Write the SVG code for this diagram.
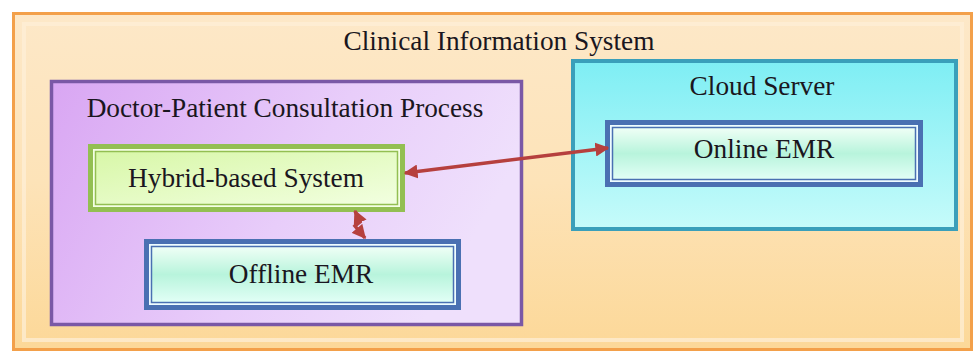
<svg xmlns="http://www.w3.org/2000/svg" width="976" height="352" viewBox="0 0 976 352">
<defs>
<linearGradient id="gOuter" x1="0" y1="0" x2="0" y2="1">
<stop offset="0" stop-color="#fde8c8"/>
<stop offset="0.5" stop-color="#fde3b8"/>
<stop offset="1" stop-color="#fcd898"/>
</linearGradient>
<linearGradient id="gPurple" x1="0" y1="0" x2="1" y2="0.3">
<stop offset="0" stop-color="#d9a6f3"/>
<stop offset="0.6" stop-color="#e8cdfa"/>
<stop offset="1" stop-color="#efe0fc"/>
</linearGradient>
<linearGradient id="gCloud" x1="0" y1="0" x2="0" y2="1">
<stop offset="0" stop-color="#7eeef4"/>
<stop offset="1" stop-color="#c6fbfa"/>
</linearGradient>
<linearGradient id="gEmr" x1="0" y1="0" x2="0" y2="1">
<stop offset="0" stop-color="#f0fff6"/>
<stop offset="0.5" stop-color="#b8f4dc"/>
<stop offset="1" stop-color="#e2fff6"/>
</linearGradient>
<linearGradient id="gHybrid" x1="0" y1="0" x2="1" y2="1">
<stop offset="0" stop-color="#d8f7a8"/>
<stop offset="1" stop-color="#f2ffe0"/>
</linearGradient>
<marker id="ah" viewBox="0 0 10 10" refX="9" refY="5" markerWidth="4" markerHeight="4" orient="auto-start-reverse" markerUnits="strokeWidth">
<path d="M0,0 L10,5 L0,10 Z" fill="#b6403e"/>
</marker>
</defs>
<style>
text{font-family:"Liberation Serif","Times New Roman",serif;font-size:27.3px;fill:#1a1620;text-anchor:middle}
.conn{fill:none;stroke:#b6403e;stroke-width:3.5;marker-start:url(#ah);marker-end:url(#ah)}
.emrOut{fill:#4a70b2}
.gap{fill:#eefcff}
.emrIn{fill:url(#gEmr);stroke:#4a70b2;stroke-width:1.5}
</style>
<rect width="976" height="352" fill="#ffffff"/>
<g id="clinical">
<rect x="13.5" y="13.5" width="958" height="336" fill="url(#gOuter)" stroke="#f3a04a" stroke-width="3"/>
<rect x="24" y="24" width="938" height="316" fill="none" stroke="#fdefd8" stroke-width="4" opacity="0.7"/>
<text x="499" y="50">Clinical Information System</text>
</g>
<g id="consultation">
<rect x="51.5" y="81.5" width="470" height="243" fill="url(#gPurple)" stroke="#7a58a6" stroke-width="3.5"/>
<text x="285" y="117">Doctor-Patient Consultation Process</text>
</g>
<g id="hybrid">
<rect x="88" y="144" width="317" height="68" fill="#93bf52"/>
<rect x="93" y="149" width="307" height="58" fill="#f4ffe4"/>
<rect x="95.5" y="151.5" width="302" height="53" fill="url(#gHybrid)" stroke="#93bf52" stroke-width="1.5"/>
<text x="246" y="187">Hybrid-based System</text>
</g>
<g id="offline">
<rect class="emrOut" x="144" y="239" width="317" height="71"/>
<rect class="gap" x="149" y="244" width="307" height="61"/>
<rect class="emrIn" x="151.5" y="246.5" width="302" height="56"/>
<text x="301" y="283">Offline EMR</text>
</g>
<g id="cloud">
<rect x="573" y="61" width="383" height="168" fill="url(#gCloud)" stroke="#3a9fba" stroke-width="4"/>
<text x="762" y="95">Cloud Server</text>
</g>
<g id="online">
<rect class="emrOut" x="605" y="120" width="318" height="67"/>
<rect class="gap" x="610" y="125" width="308" height="57"/>
<rect class="emrIn" x="612.5" y="127.5" width="303" height="52"/>
<text x="764" y="158">Online EMR</text>
</g>
<g id="connectors">
<path class="conn" d="M405,173 L608,148"/>
<path class="conn" d="M355,211 L360,222 L355,226 L365,238"/>
</g>
</svg>
